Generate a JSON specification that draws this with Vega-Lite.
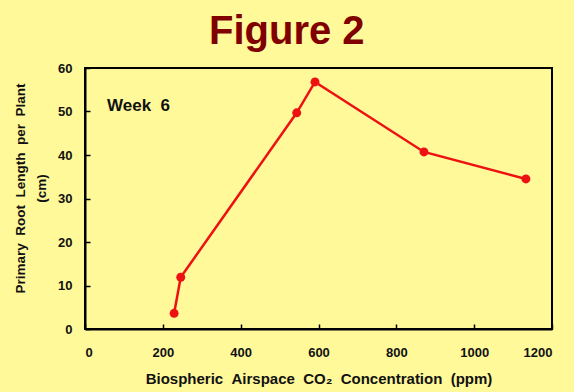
{
  "$schema": "https://vega.github.io/schema/vega-lite/v6.json",
  "width": 467,
  "height": 261,
  "autosize": {"type": "none"},
  "padding": {"left": 85, "top": 68, "right": 22, "bottom": 63},
  "background": "#FFF99A",
  "title": {
    "text": "Figure 2",
    "anchor": "start",
    "frame": "group",
    "dx": 124,
    "offset": -22,
    "baseline": "alphabetic",
    "font": "Liberation Sans",
    "fontSize": 40,
    "fontWeight": "bold",
    "color": "#800000"
  },
  "config": {
    "view": {"stroke": "black", "strokeWidth": 2, "fill": "#FFF99A"},
    "axis": {
      "labelFont": "Liberation Sans",
      "labelFontWeight": "bold",
      "labelFontSize": 13,
      "labelColor": "#111111",
      "titleFont": "Liberation Sans",
      "titleFontWeight": "bold",
      "titleFontSize": 14,
      "titleColor": "#111111",
      "domainColor": "black",
      "domainWidth": 2,
      "tickColor": "black",
      "tickWidth": 1.5,
      "tickSize": -5,
      "grid": false
    }
  },
  "data": {
    "values": [
      {"co2": 229, "root": 3.6},
      {"co2": 246, "root": 11.9},
      {"co2": 544, "root": 49.7},
      {"co2": 591, "root": 56.8},
      {"co2": 871, "root": 40.7},
      {"co2": 1133, "root": 34.5}
    ]
  },
  "layer": [
    {
      "mark": {"type": "line", "color": "#EE1111", "strokeWidth": 2.5},
      "encoding": {
        "x": {
          "field": "co2",
          "type": "quantitative",
          "scale": {"domain": [0, 1200], "nice": false},
          "axis": {
            "values": [0, 200, 400, 600, 800, 1000, 1200],
            "format": "d",
            "title": "Biospheric \u00a0Airspace \u00a0CO₂ \u00a0Concentration \u00a0(ppm)",
            "titleFontSize": 15,
            "labelPadding": 22,
            "titleY": 54,
            "titleBaseline": "alphabetic"
          }
        },
        "y": {
          "field": "root",
          "type": "quantitative",
          "scale": {"domain": [0, 60], "nice": false},
          "axis": {
            "values": [0, 10, 20, 30, 40, 50, 60],
            "title": ["Primary \u00a0Root \u00a0Length \u00a0per \u00a0Plant", "(cm)"],
            "titleFontSize": 13.5,
            "labelPadding": 18,
            "titleX": -72,
            "titleY": 120,
            "titleAngle": -90,
            "titleAlign": "center",
            "titleBaseline": "top",
            "titleLineHeight": 21
          }
        }
      }
    },
    {
      "mark": {"type": "point", "filled": true, "color": "#EE1111", "size": 80, "opacity": 1},
      "encoding": {
        "x": {"field": "co2", "type": "quantitative"},
        "y": {"field": "root", "type": "quantitative"}
      }
    },
    {
      "data": {"values": [{"co2": 56.5, "root": 50.1, "label": "Week \u00a06"}]},
      "mark": {"type": "text", "align": "left", "baseline": "alphabetic", "font": "Liberation Sans", "fontSize": 17, "fontWeight": "bold", "color": "#111111"},
      "encoding": {
        "x": {"field": "co2", "type": "quantitative"},
        "y": {"field": "root", "type": "quantitative"},
        "text": {"field": "label"}
      }
    }
  ]
}
